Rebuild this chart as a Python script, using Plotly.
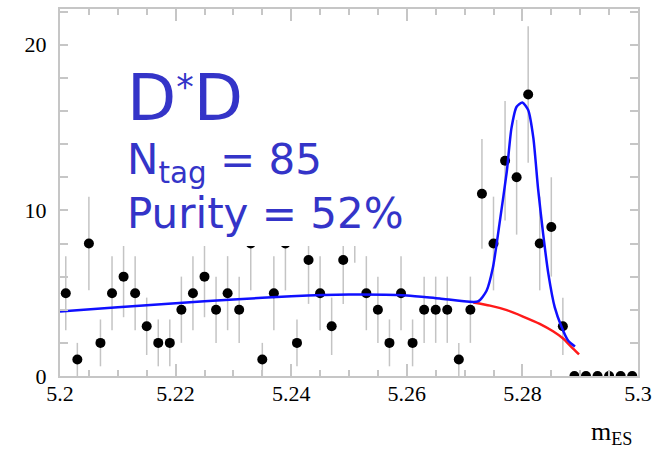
import numpy as np
import plotly.graph_objects as go

# ---------------- data ----------------
mass_bins = [5.201, 5.203, 5.205, 5.207, 5.209, 5.211, 5.213, 5.215, 5.217, 5.219,
             5.221, 5.223, 5.225, 5.227, 5.229, 5.231, 5.233, 5.235, 5.237, 5.239,
             5.241, 5.243, 5.245, 5.247, 5.249, 5.251, 5.253, 5.255, 5.257, 5.259,
             5.261, 5.263, 5.265, 5.267, 5.269, 5.271, 5.273, 5.275, 5.277, 5.279,
             5.281, 5.283, 5.285, 5.287, 5.289, 5.291, 5.293, 5.295, 5.297, 5.299]
counts = [5, 1, 8, 2, 5, 6, 5, 3, 2, 2,
          4, 5, 6, 4, 5, 4, 8, 1, 5, 8,
          2, 7, 5, 3, 7, 10, 5, 4, 2, 5,
          2, 4, 4, 4, 1, 4, 11, 8, 13, 12,
          17, 8, 9, 3, 0, 0, 0, 0, 0, 0]

# total fit (blue), sampled from the drawn curve
fit_x = [5.2000, 5.2100, 5.2200, 5.2300, 5.2400, 5.2500, 5.2600, 5.2657, 5.2723,
         5.2738, 5.2749, 5.2761, 5.2773, 5.2781, 5.2790, 5.2800, 5.2810, 5.2819,
         5.2827, 5.2836, 5.2845, 5.2856, 5.2868, 5.2879, 5.2891]
fit_y = [3.90, 4.15, 4.40, 4.62, 4.82, 4.92, 4.86, 4.68, 4.50,
         5.15, 6.55, 9.35, 12.35, 14.95, 16.26, 16.52, 16.06, 14.36,
         11.35, 8.55, 6.15, 4.14, 2.94, 2.14, 1.78]

# background component (red)
bkg_x = [5.2715, 5.2744, 5.2773, 5.2801, 5.2830, 5.2853, 5.2871, 5.2885, 5.2898]
bkg_y = [4.44, 4.25, 3.98, 3.59, 3.15, 2.70, 2.25, 1.74, 1.30]

x_tickvals = [5.2, 5.22, 5.24, 5.26, 5.28, 5.3]
x_ticktext = ["5.2", "5.22", "5.24", "5.26", "5.28", "5.3"]
y_tickvals = [0, 10, 20]
y_ticktext = ["0", "10", "20"]

title_text = "D<span style='font-size:50px'><sup>*</sup></span>D"
ntag_text = "N<sub>tag</sub> = 85"
purity_text = "Purity = 52%"
xlabel_text = "m<sub>ES</sub>"

# ---------------- figure ----------------
serif = "Liberation Serif"
errs = np.sqrt(np.array(counts, dtype=float))

fig = go.Figure()
fig.add_trace(go.Scatter(
    x=mass_bins, y=counts, mode="markers",
    marker=dict(color="black", size=10),
    error_y=dict(type="data", array=errs, visible=True, color="#c4c4c4",
                 thickness=1.5, width=0),
    showlegend=False,
))
fig.add_trace(go.Scatter(
    x=bkg_x, y=bkg_y, mode="lines",
    line=dict(color="#ff1a1a", width=2.5, shape="spline", smoothing=0.6),
    showlegend=False,
))
fig.add_trace(go.Scatter(
    x=fit_x, y=fit_y, mode="lines",
    line=dict(color="#1010ff", width=2.5, shape="spline", smoothing=0.6),
    showlegend=False,
))

# white box behind the labels
fig.add_shape(type="rect", xref="paper", yref="paper",
              x0=0.086, x1=0.62, y0=0.354, y1=0.87,
              fillcolor="white", line=dict(width=0), layer="above")

blue_txt = "#3434c8"
fig.add_annotation(text=title_text, xref="paper", yref="paper", x=0.112, y=0.758,
                   xanchor="left", yanchor="middle", showarrow=False,
                   font=dict(family="DejaVu Sans", size=64, color=blue_txt))
fig.add_annotation(text=ntag_text, xref="paper", yref="paper", x=0.112, y=0.581,
                   xanchor="left", yanchor="middle", showarrow=False,
                   font=dict(family="DejaVu Sans", size=42, color=blue_txt))
fig.add_annotation(text=purity_text, xref="paper", yref="paper", x=0.112, y=0.444,
                   xanchor="left", yanchor="middle", showarrow=False,
                   font=dict(family="DejaVu Sans", size=42, color=blue_txt))
fig.add_annotation(text=xlabel_text, xref="paper", yref="paper", x=0.955, y=-0.155,
                   xanchor="center", yanchor="middle", showarrow=False,
                   font=dict(family=serif, size=26, color="black"))

frame = "#c6c6c6"
fig.update_xaxes(range=[5.2, 5.3], tickvals=x_tickvals, ticktext=x_ticktext,
                 ticks="inside", ticklen=12, tickwidth=1.5, tickcolor=frame,
                 minor=dict(dtick=0.005, ticks="inside", ticklen=6, tickcolor=frame, tickwidth=1.5),
                 showline=True, linecolor=frame, linewidth=2, mirror="ticks",
                 showgrid=False, zeroline=False, ticklabelstandoff=-3,
                 tickfont=dict(family=serif, size=22, color="black"))
fig.update_yaxes(range=[0, 22.16], tickvals=y_tickvals, ticktext=y_ticktext,
                 ticks="inside", ticklen=8, tickwidth=1.5, tickcolor=frame,
                 minor=dict(dtick=2, ticks="inside", ticklen=8, tickcolor=frame, tickwidth=1.5),
                 showline=True, linecolor=frame, linewidth=2, mirror="ticks",
                 showgrid=False, zeroline=False, ticklabelstandoff=7,
                 tickfont=dict(family=serif, size=22, color="black"))

fig.update_layout(width=661, height=449,
                  margin=dict(l=60, r=23, t=7, b=73, pad=0),
                  font=dict(family=serif, color="black"),
                  plot_bgcolor="white", paper_bgcolor="white")

fig.write_html("out.html")
